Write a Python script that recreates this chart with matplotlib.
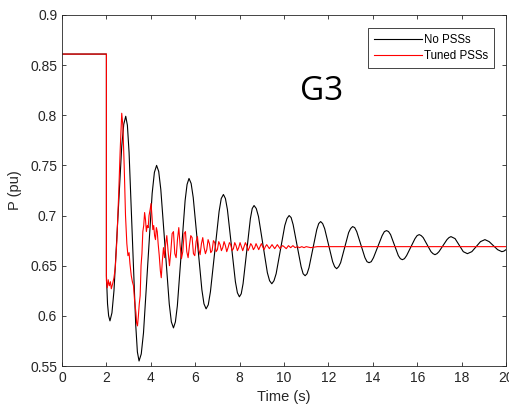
import matplotlib
matplotlib.use("Agg")
import matplotlib.pyplot as plt

# No PSSs response (each row is one swing, ending at its peak/trough)
t_nopss = [0.0, 2.0, 2.0, 2.05, 2.1, 2.16,
           2.249, 2.34, 2.515, 2.69, 2.781, 2.87,
           2.945, 3.02, 3.17, 3.32, 3.395, 3.47,
           3.569, 3.67, 3.865, 4.06, 4.161, 4.26,
           4.355, 4.45, 4.64, 4.83, 4.925, 5.02,
           5.1075, 5.195, 5.37, 5.545, 5.6325, 5.72,
           5.816, 5.91, 6.105, 6.30, 6.394, 6.49,
           6.5875, 6.685, 6.88, 7.075, 7.1725, 7.27,
           7.36, 7.45, 7.63, 7.81, 7.90, 7.99,
           8.0725, 8.155, 8.32, 8.485, 8.5675, 8.65,
           8.75, 8.85, 9.05, 9.25, 9.35, 9.45,
           9.5475, 9.645, 9.84, 10.035, 10.1325, 10.23,
           10.32, 10.41, 10.59, 10.77, 10.86, 10.95,
           11.0375, 11.125, 11.30, 11.475, 11.5625, 11.65,
           11.74, 11.83, 12.01, 12.19, 12.28, 12.37,
           12.46, 12.55, 12.73, 12.91, 13.00, 13.09,
           13.1825, 13.275, 13.46, 13.645, 13.7375, 13.83,
           13.929, 14.03, 14.225, 14.42, 14.521, 14.62,
           14.709, 14.80, 14.975, 15.15, 15.241, 15.33,
           15.425, 15.52, 15.71, 15.90, 15.995, 16.09,
           16.179, 16.27, 16.445, 16.62, 16.711, 16.80,
           16.89, 16.98, 17.16, 17.34, 17.43, 17.52,
           17.6125, 17.705, 17.89, 18.075, 18.1675, 18.26,
           18.359, 18.46, 18.655, 18.85, 18.951, 19.05,
           19.145, 19.24, 19.43, 19.62, 19.715, 19.81,
           19.90, 20.0]
p_nopss = [0.861, 0.861, 0.64, 0.612, 0.600, 0.595,
           0.603, 0.625, 0.697, 0.769, 0.791, 0.799,
           0.790, 0.763, 0.677, 0.591, 0.564, 0.555,
           0.562, 0.583, 0.6525, 0.722, 0.743, 0.750,
           0.744, 0.726, 0.669, 0.612, 0.594, 0.588,
           0.594, 0.610, 0.6625, 0.715, 0.731, 0.737,
           0.732, 0.718, 0.672, 0.626, 0.612, 0.607,
           0.611, 0.624, 0.664, 0.704, 0.717, 0.721,
           0.717, 0.706, 0.670, 0.634, 0.623, 0.619,
           0.622, 0.632, 0.6645, 0.697, 0.707, 0.710,
           0.707, 0.699, 0.671, 0.643, 0.635, 0.632,
           0.635, 0.642, 0.666, 0.690, 0.697, 0.700,
           0.698, 0.691, 0.670, 0.649, 0.642, 0.640,
           0.642, 0.648, 0.667, 0.686, 0.692, 0.694,
           0.692, 0.687, 0.6705, 0.654, 0.649, 0.647,
           0.649, 0.653, 0.668, 0.683, 0.687, 0.689,
           0.688, 0.684, 0.671, 0.658, 0.654, 0.653,
           0.654, 0.658, 0.669, 0.680, 0.684, 0.685,
           0.684, 0.681, 0.6705, 0.660, 0.657, 0.656,
           0.657, 0.660, 0.6685, 0.677, 0.680, 0.681,
           0.680, 0.678, 0.671, 0.664, 0.662, 0.661,
           0.662, 0.664, 0.670, 0.676, 0.678, 0.679,
           0.678, 0.677, 0.6705, 0.664, 0.663, 0.662,
           0.663, 0.664, 0.669, 0.674, 0.675, 0.676,
           0.675, 0.674, 0.670, 0.666, 0.665, 0.664,
           0.6645, 0.666]

# Tuned PSSs response
t_tuned = [0.0, 2.0, 2.0, 2.04, 2.08, 2.13, 2.18, 2.22, 2.28, 2.34, 2.40,
           2.47, 2.55, 2.62, 2.69, 2.74, 2.80, 2.86, 2.92, 2.97, 3.02,
           3.06, 3.12, 3.17, 3.22, 3.27, 3.33, 3.36, 3.40, 3.44, 3.48,
           3.52, 3.56, 3.60, 3.64, 3.68, 3.72, 3.76, 3.80, 3.84, 3.88,
           3.92, 3.97, 4.01, 4.05, 4.09, 4.13, 4.17, 4.21, 4.25, 4.29,
           4.33, 4.38, 4.43, 4.47, 4.52, 4.57, 4.62, 4.67, 4.72, 4.78,
           4.84, 4.90, 4.96, 5.02, 5.08, 5.14, 5.20, 5.26, 5.32, 5.38,
           5.44, 5.50, 5.56, 5.62, 5.68, 5.74, 5.80, 5.86, 5.92, 5.98,
           6.04, 6.10, 6.16, 6.22, 6.28, 6.34, 6.40, 6.46, 6.52, 6.58,
           6.64, 6.70, 6.76, 6.82, 6.88, 6.94, 7.00, 7.06, 7.12, 7.18,
           7.24, 7.30, 7.36, 7.42, 7.48, 7.54, 7.60, 7.66, 7.72, 7.78,
           7.84, 7.90, 7.96, 8.02, 8.08, 8.14, 8.20, 8.26, 8.32, 8.38,
           8.44, 8.50, 8.56, 8.62, 8.68, 8.74, 8.80, 8.86, 8.92, 8.98,
           9.04, 9.10, 9.16, 9.22, 9.28, 9.34, 9.40, 9.46, 9.52, 9.58,
           9.64, 9.70, 9.76, 9.82, 9.88, 9.94, 10.0, 10.1, 10.2, 10.3,
           10.4, 10.5, 10.6, 10.7, 10.8, 10.9, 11.0, 11.2, 11.5, 12.0, 20.0]
p_tuned = [0.861, 0.861, 0.635, 0.628, 0.636, 0.630, 0.634, 0.627, 0.632, 0.638, 0.648,
           0.675, 0.720, 0.765, 0.802, 0.790, 0.750, 0.700, 0.672, 0.660, 0.663,
           0.652, 0.640, 0.634, 0.630, 0.615, 0.603, 0.593, 0.590, 0.600, 0.612,
           0.620, 0.650, 0.662, 0.684, 0.690, 0.703, 0.696, 0.684, 0.690, 0.688,
           0.700, 0.706, 0.712, 0.700, 0.686, 0.690, 0.680, 0.676, 0.688, 0.684,
           0.672, 0.660, 0.645, 0.638, 0.655, 0.668, 0.658, 0.672, 0.680, 0.664,
           0.650, 0.664, 0.682, 0.684, 0.662, 0.658, 0.676, 0.688, 0.670, 0.657,
           0.664, 0.682, 0.684, 0.664, 0.658, 0.670, 0.680, 0.678, 0.662, 0.660,
           0.674, 0.679, 0.666, 0.661, 0.672, 0.678, 0.668, 0.662, 0.666, 0.676,
           0.672, 0.663, 0.665, 0.675, 0.673, 0.664, 0.666, 0.674, 0.671, 0.665,
           0.668, 0.674, 0.670, 0.664, 0.668, 0.673, 0.671, 0.665, 0.667, 0.673,
           0.670, 0.665, 0.668, 0.673, 0.669, 0.665, 0.669, 0.673, 0.670, 0.665,
           0.668, 0.672, 0.670, 0.666, 0.668, 0.672, 0.669, 0.666, 0.669, 0.672,
           0.669, 0.666, 0.669, 0.671, 0.669, 0.667, 0.669, 0.671, 0.669, 0.667,
           0.669, 0.671, 0.669, 0.667, 0.669, 0.670, 0.669, 0.667, 0.670, 0.668,
           0.670, 0.668, 0.669, 0.668, 0.669, 0.668, 0.669, 0.668, 0.669, 0.669, 0.669]

x_ticks = [0, 2, 4, 6, 8, 10, 12, 14, 16, 18, 20]
y_ticks = [0.55, 0.6, 0.65, 0.7, 0.75, 0.8, 0.85, 0.9]
y_ticklabels = ["0.55", "0.6", "0.65", "0.7", "0.75", "0.8", "0.85", "0.9"]

plt.rcParams['font.family'] = ['Liberation Sans', 'DejaVu Sans']

fig = plt.figure(figsize=(5.1, 4.13), dpi=100)
ax = fig.add_axes([0.1216, 0.1138, 0.8706, 0.85])

ax.plot(t_nopss, p_nopss, color="black", lw=0.8, label="No PSSs")
ax.plot(t_tuned, p_tuned, color="#ff0000", lw=0.8, label="Tuned PSSs")

ax.set_xlim(0, 20)
ax.set_ylim(0.55, 0.9)
ax.set_xticks(x_ticks)
ax.set_yticks(y_ticks)
ax.set_yticklabels(y_ticklabels)
ax.tick_params(direction="in", top=True, right=True, length=3, width=0.6,
               colors="#262626", labelsize=10, labelcolor="#262626")
for s in ax.spines.values():
    s.set_color("#262626")
    s.set_linewidth(0.6)

ax.set_xlabel("Time (s)", fontsize=10.5, color="#262626", labelpad=4)
ax.set_ylabel("P (pu)", fontsize=10.5, color="#262626", labelpad=6)

leg = ax.legend(loc="upper right", bbox_to_anchor=(0.973, 0.964), borderaxespad=0,
                fontsize=8.3, handlelength=4.2, handletextpad=0.1, fancybox=False,
                framealpha=1, borderpad=0.55, labelspacing=0.35)
leg.get_frame().set_edgecolor("#262626")
leg.get_frame().set_linewidth(0.6)

ax.text(11.7, 0.8235, "G3", fontsize=24, ha="center", va="center",
        family="Open Sans", color="black")

fig.savefig("out.png", dpi=100)
